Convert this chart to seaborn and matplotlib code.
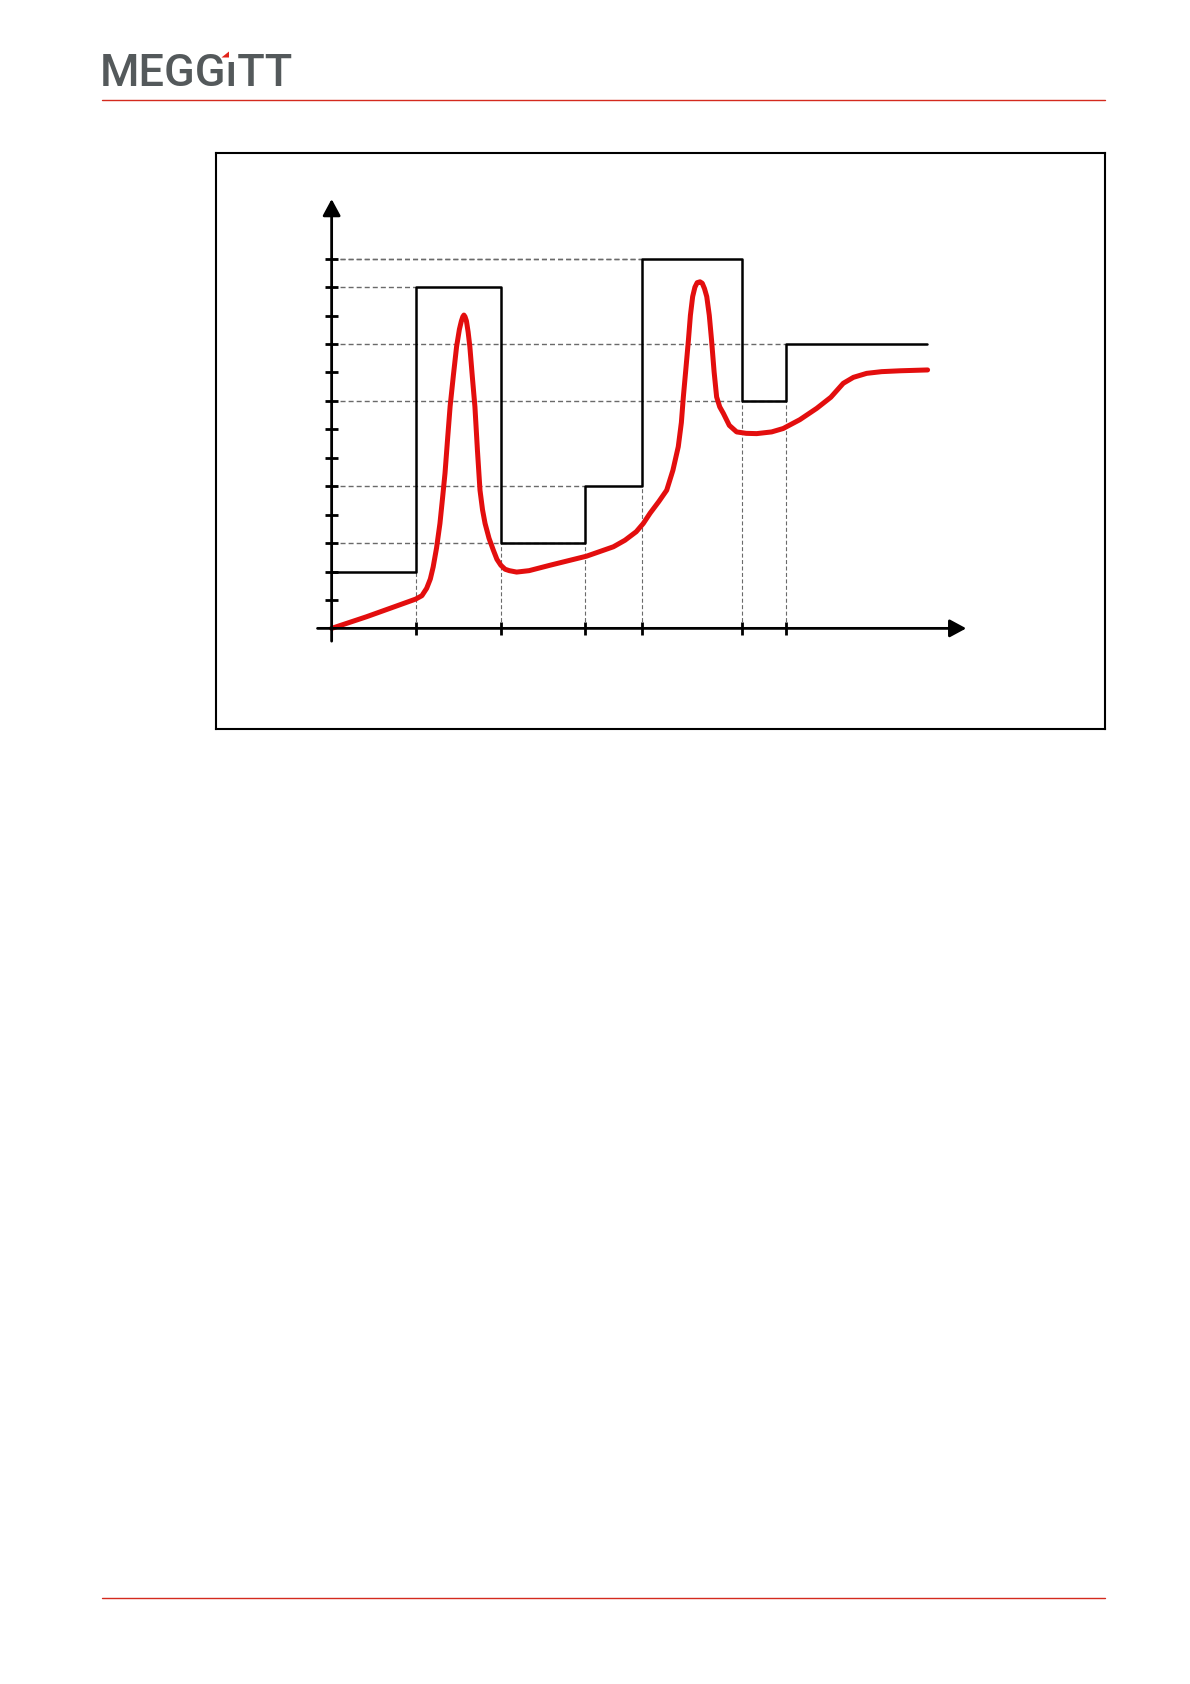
import matplotlib
matplotlib.use("Agg")
import matplotlib.pyplot as plt
import seaborn as sns

# step (set point) signal: level held from each x to the next
step_x = [0, 3, 6, 9, 11, 14.55, 16.1, 21.1]
step_y = [2, 12, 3, 5, 13, 8, 10, 10]

resp_x = [0, 1.24, 2.42, 2.98, 3.2, 3.37, 3.5, 3.6, 3.72, 3.84, 3.93, 4.02, 4.11,
          4.2, 4.32, 4.43, 4.53, 4.6, 4.65, 4.69, 4.73, 4.78, 4.84, 4.9, 4.99,
          5.08, 5.17, 5.26, 5.35, 5.44, 5.58, 5.73, 5.86, 6.0, 6.15, 6.3, 6.56,
          7.0, 7.74, 9.04, 9.99, 10.4, 10.8, 11.05, 11.29, 11.6, 11.88, 12.1,
          12.29, 12.4, 12.47, 12.56, 12.65, 12.72, 12.8, 12.88, 12.96, 13.06,
          13.14, 13.22, 13.3, 13.39, 13.47, 13.56, 13.65, 13.76, 13.89, 14.1,
          14.36, 14.7, 15.07, 15.6, 16.01, 16.6, 17.2, 17.7, 18.14, 18.5, 18.97,
          19.5, 20.15, 21.13]
resp_y = [0, 0.41, 0.83, 1.03, 1.15, 1.41, 1.74, 2.16, 2.83, 3.69, 4.56, 5.46, 6.65,
          7.8, 8.93, 9.91, 10.52, 10.81, 10.96, 11.02, 10.96, 10.81, 10.42, 9.91, 8.83,
          7.8, 6.25, 4.86, 4.17, 3.69, 3.17, 2.76, 2.43, 2.22, 2.08, 2.03, 1.98,
          2.03, 2.22, 2.54, 2.87, 3.1, 3.4, 3.69, 4.05, 4.46, 4.86, 5.56,
          6.39, 7.24, 8.14, 9.13, 10.14, 11.01, 11.67, 12.0, 12.16, 12.19,
          12.14, 11.95, 11.67, 11.01, 10.14, 9.03, 8.14, 7.79, 7.56, 7.14,
          6.91, 6.86, 6.85, 6.91, 7.03, 7.34, 7.74, 8.13, 8.62, 8.83, 8.97,
          9.03, 9.06, 9.09]

y_ticks = list(range(1, 14))

sns.set_style("white")
plt.rcParams['font.family'] = ['Roboto', 'DejaVu Sans']

fig = plt.figure(figsize=(11.9, 16.84), dpi=100)

# page decorations in pixel coordinates
page = fig.add_axes([0, 0, 1, 1])
page.set_xlim(0, 1190)
page.set_ylim(1684, 0)
page.axis("off")
page.plot([102, 1105], [100.3, 100.3], color="#d42a1e", lw=1.0)
page.plot([102, 1105], [1598.3, 1598.3], color="#d42a1e", lw=1.0)
page.text(100, 85.5, "MEGG\u0131TT", fontsize=32.5, fontweight="medium", color="#54595b",
          ha="left", va="baseline")
page.fill([229, 221.5, 229], [51.5, 57.5, 57.5], color="#e2231a", lw=0)

# chart inside the framed box
ax = fig.add_axes([216 / 1190, 1 - 729.3 / 1684, 889 / 1190, 576 / 1684])
ax.set_xlim(-4.10, 27.42)
ax.set_ylim(-3.55, 16.71)
ax.set_xticks([])
ax.set_yticks([])
for s in ax.spines.values():
    s.set_visible(True)
    s.set_color("black")
    s.set_linewidth(1.5)

dash = dict(color="#6a6a6a", lw=1.0, dashes=(3.6, 2.2))

# horizontal guides from the y axis to where each level starts/ends
for i in range(1, len(step_y) - 1):
    lvl = step_y[i]
    x_end = step_x[i] if step_y[i - 1] < lvl else step_x[i + 1]
    if lvl == 10:
        x_end = step_x[i]
    ax.plot([0, x_end], [lvl, lvl], **dash, zorder=1)
ax.plot([0, step_x[4]], [13, 13], **dash, zorder=1)

# vertical guides at each switch point
for i in range(1, len(step_x) - 1):
    top = min(step_y[i - 1], step_y[i])
    ax.plot([step_x[i], step_x[i]], [0, top], color="#6a6a6a", lw=0.8,
            dashes=(3.6, 2.2), zorder=1)

sns.lineplot(x=step_x, y=step_y, drawstyle="steps-post", color="black", lw=1.8,
             ax=ax, zorder=3)
sns.lineplot(x=resp_x, y=resp_y, color="#e30e0e", lw=3.6, ax=ax, zorder=4,
             sort=False, solid_joinstyle="round", solid_capstyle="round")

# axes with arrows
arrow = dict(arrowstyle="-|>,head_length=0.5,head_width=0.27", color="black",
             lw=2.0, mutation_scale=20, shrinkA=0, shrinkB=0)
ax.annotate("", xy=(0, 15.1), xytext=(0, -0.45), arrowprops=arrow, zorder=5)
ax.annotate("", xy=(22.5, 0), xytext=(-0.5, 0), arrowprops=arrow, zorder=5)
ax.hlines(y_ticks, -0.24, 0.24, color="black", lw=2.0, zorder=5)
ax.vlines(step_x[1:-1], -0.24, 0.24, color="black", lw=2.0, zorder=5)

fig.savefig("out.png", dpi=100)
